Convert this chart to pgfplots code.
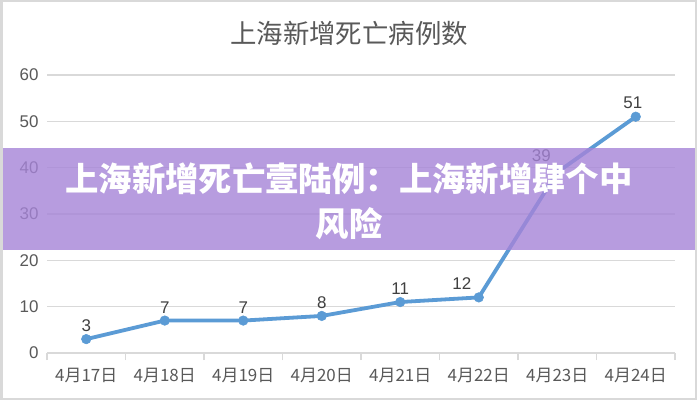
\documentclass[border=0pt]{standalone}
\usepackage{fontspec}
\setmainfont{Liberation Sans}
\newfontfamily\cjk{Noto Sans CJK SC}
\usepackage{pgfplots}
\pgfplotsset{compat=1.18}
\definecolor{linecol}{HTML}{5B9BD5}
\definecolor{gridcol}{HTML}{D9D9D9}
\definecolor{labcol}{HTML}{595959}
\definecolor{valcol}{HTML}{404040}
\definecolor{banner}{HTML}{A684D8}

\begin{document}
\begin{tikzpicture}[x=1bp,y=1bp]
\useasboundingbox (0,0) rectangle (697,400);
\fill[white] (0,0) rectangle (697,400);
\begin{axis}[
  at={(47bp,47bp)}, anchor=south west, scale only axis,
  width=628bp, height=278bp,
  xmin=-0.5, xmax=7.5, ymin=0, ymax=60,
  ytick={0,10,...,60},
  xtick={0,...,7},
  xticklabels={4月17日,4月18日,4月19日,4月20日,4月21日,4月22日,4月23日,4月24日},
  minor xtick={-0.5,0.5,...,7.5},
  axis x line*=bottom, axis y line*=left,
  x axis line style={gridcol, line width=1.2bp, -},
  y axis line style={draw=none},
  ymajorgrids, grid style={gridcol, line width=1.2bp},
  major tick length=0pt, minor tick length=7bp, tick align=outside,
  minor tick style={gridcol, line width=1.2bp},
  xticklabel style={font=\cjk\fontsize{17}{20}\selectfont, text=labcol, yshift=-12bp},
  yticklabel style={font=\fontsize{17}{20}\selectfont, text=labcol, xshift=-5bp},
  /pgf/number format/assume math mode=true,
  nodes near coords,
  every node near coord/.append style={font=\fontsize{17}{20}\selectfont, text=valcol, yshift=4bp},
  coordinate style/.condition={x==5}{xshift=-17bp},
  coordinate style/.condition={x==6}{xshift=-16bp, yshift=3bp},
  coordinate style/.condition={x==7}{xshift=-3bp},
  clip=false,
]
\addplot[color=linecol, line width=3.8bp, mark=*, mark size=4.8bp,
  mark options={fill=linecol, draw=linecol, line width=0.5bp}] coordinates {
  (0, 3)
  (1, 7)
  (2, 7)
  (3, 8)
  (4, 11)
  (5, 12)
  (6, 39)
  (7, 51)
};
\end{axis}
\node[text=labcol, font=\cjk\fontsize{26.5}{30}\selectfont] at (349,367) {上海新增死亡病例数};
\fill[banner, opacity=0.8] (0,150) rectangle (697,252);
\node[text=white, font=\cjk\bfseries\fontsize{33.5}{45}\selectfont, align=center] at (349,199) {上海新增死亡壹陆例：上海新增肆个中\\风险};
\draw[gridcol, line width=2.5bp] (1.25,1.25) rectangle (695.75,398.75);
\end{tikzpicture}
\end{document}
